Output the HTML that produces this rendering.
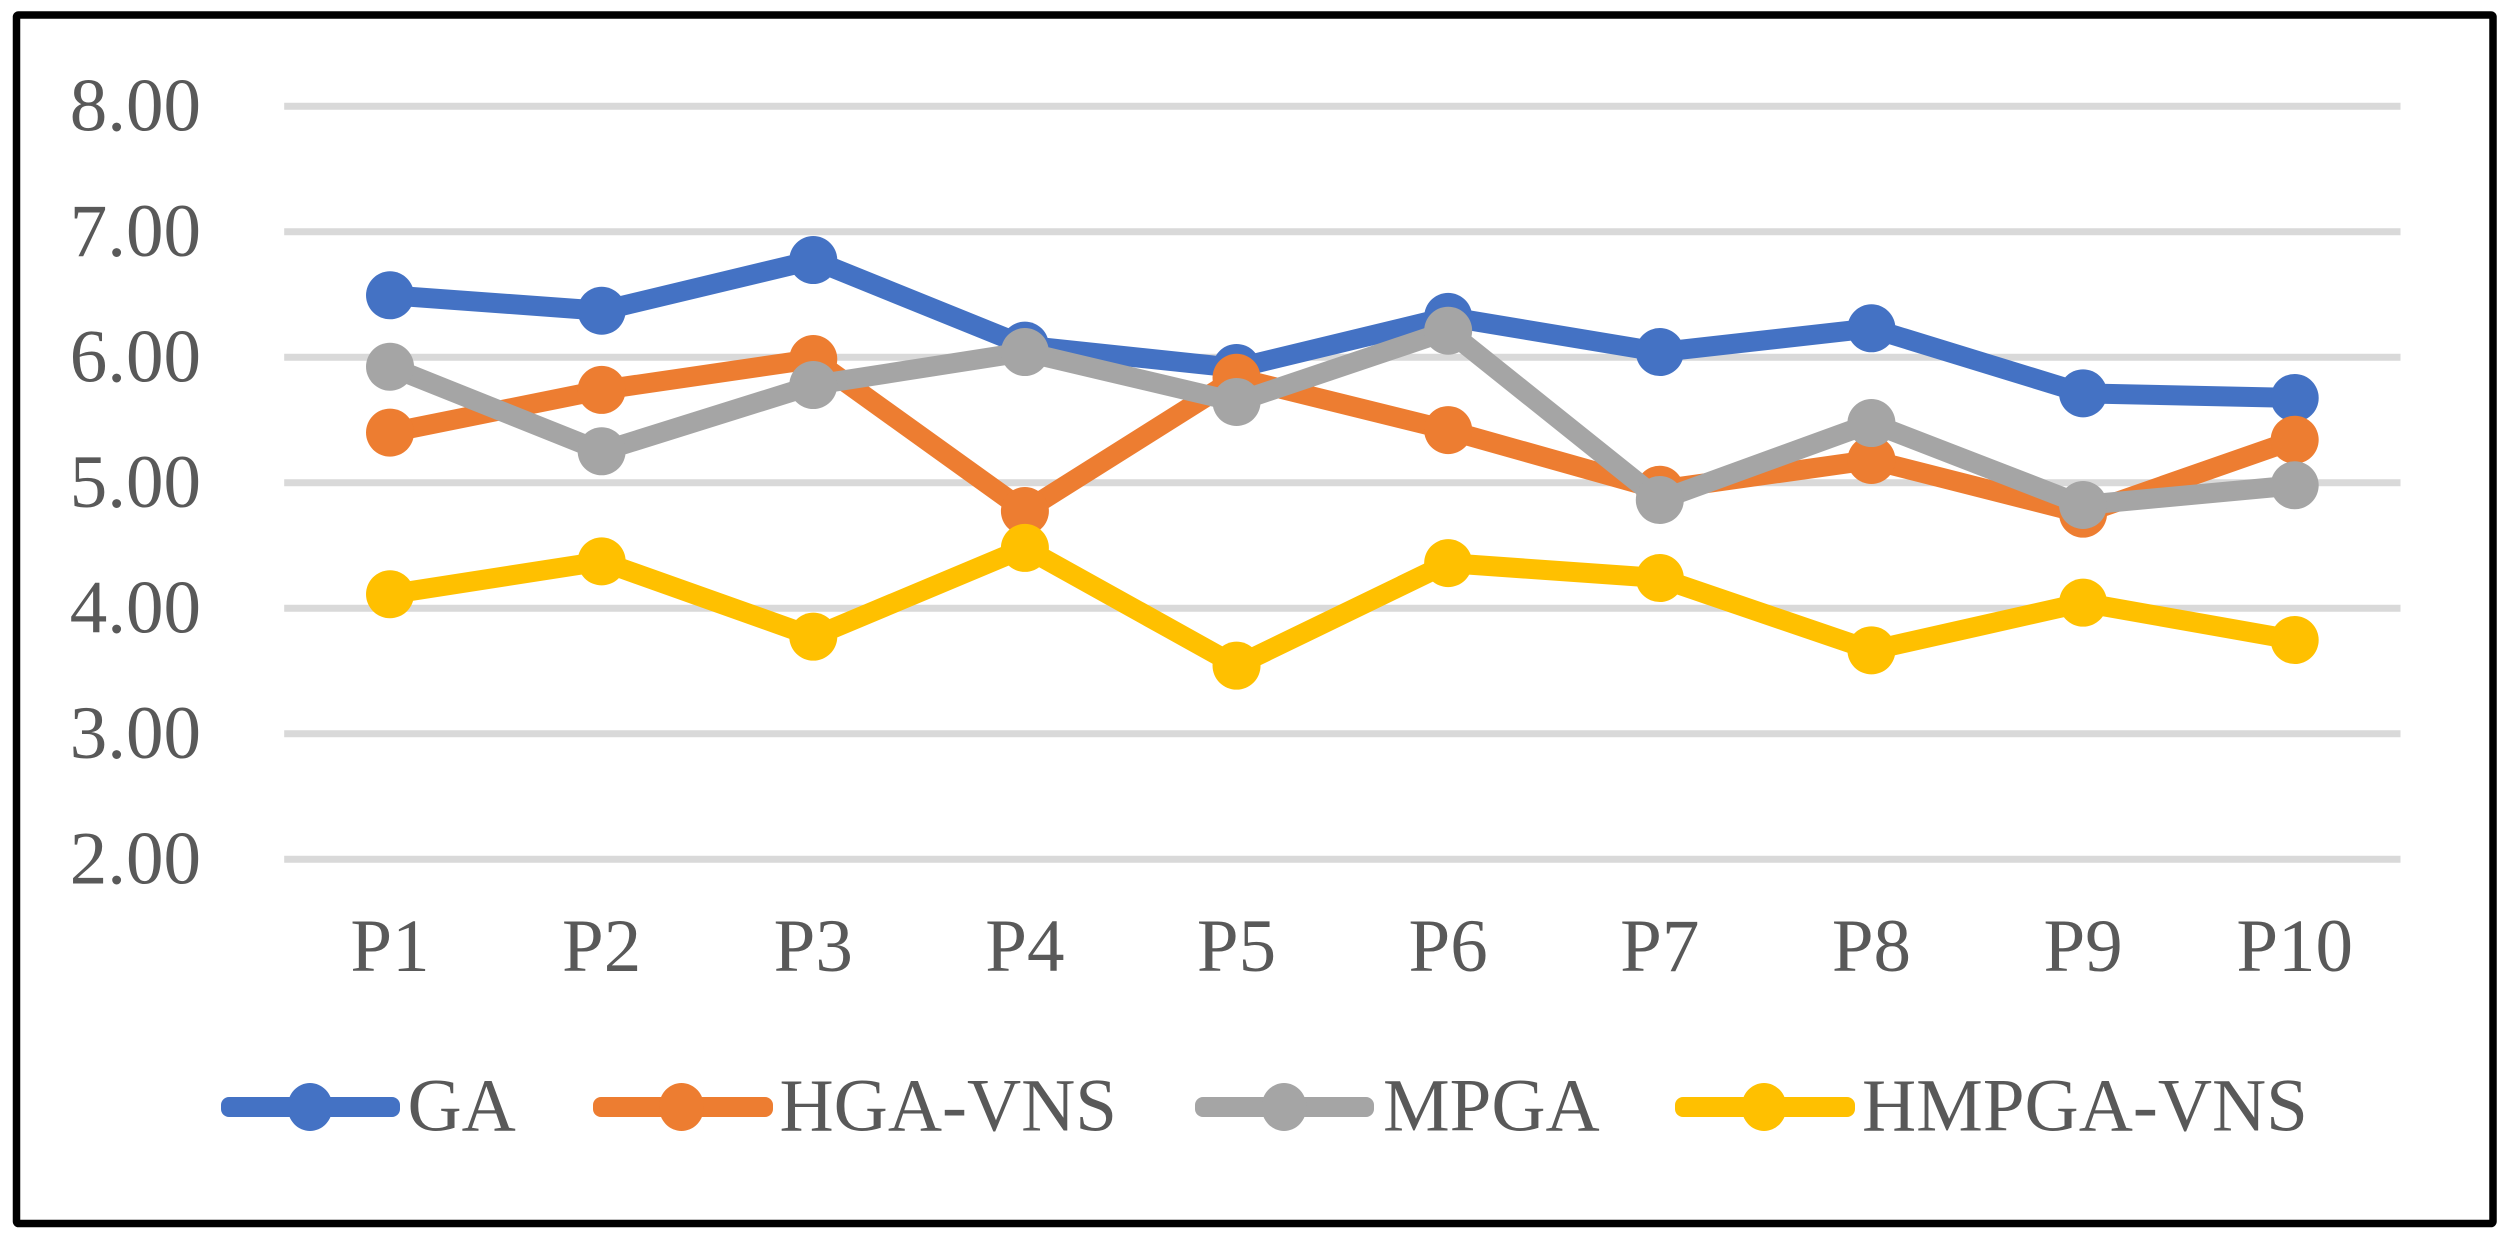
<!DOCTYPE html>
<html lang="en">
<head>
<meta charset="utf-8">
<title>Line chart of GA, HGA-VNS, MPGA and HMPGA-VNS across P1 to P10</title>
<style>
  html, body { margin: 0; padding: 0; background: #ffffff; }
  svg { display: block; }
  text { font-family: "Liberation Serif", serif; font-size: 75px; fill: #595959; }
</style>
</head>
<body>
<svg id="chart" xmlns="http://www.w3.org/2000/svg" width="2510" height="1248" viewBox="0 0 2510 1248">
  <rect x="0" y="0" width="2510" height="1248" fill="#ffffff"/>
  <rect x="16.5" y="15" width="2476.5" height="1208.5" rx="2" fill="none" stroke="#000000" stroke-width="7.5"/>
  <g id="grid"></g>
  <g id="yaxis"></g>
  <g id="xaxis"></g>
  <g id="plot"></g>
  <g>
    <g>
      <rect x="221" y="1097" width="179" height="20" rx="8" fill="#4472c4"/>
      <ellipse cx="310" cy="1107" rx="22.5" ry="24" fill="#4472c4"/>
      <text x="407.5" y="1130.5">GA</text>
    </g>
    <g>
      <rect x="593" y="1097" width="180" height="20" rx="8" fill="#ed7d31"/>
      <ellipse cx="681.5" cy="1107" rx="22.5" ry="24" fill="#ed7d31"/>
      <text x="779.5" y="1130.5">HGA-VNS</text>
    </g>
    <g>
      <rect x="1195" y="1097" width="179" height="20" rx="8" fill="#a5a5a5"/>
      <ellipse cx="1284" cy="1107" rx="22.5" ry="24" fill="#a5a5a5"/>
      <text x="1383" y="1130.5">MPGA</text>
    </g>
    <g>
      <rect x="1675" y="1097" width="180" height="20" rx="8" fill="#ffc000"/>
      <ellipse cx="1764" cy="1107" rx="22.5" ry="24" fill="#ffc000"/>
      <text x="1862" y="1130.5">HMPGA-VNS</text>
    </g>
  </g>
</svg>
<script>
const categories = ["P1", "P2", "P3", "P4", "P5", "P6", "P7", "P8", "P9", "P10"];
const yTicks = [2, 3, 4, 5, 6, 7, 8];
const yTickLabels = ["2.00", "3.00", "4.00", "5.00", "6.00", "7.00", "8.00"];
const seriesGA = [6.494, 6.371, 6.775, 6.093, 5.915, 6.322, 6.042, 6.231, 5.713, 5.676];
const seriesHGAVNS = [5.40, 5.74, 5.986, 4.775, 5.837, 5.42, 4.945, 5.182, 4.754, 5.343];
const seriesMPGA = [5.925, 5.251, 5.779, 6.042, 5.644, 6.212, 4.863, 5.476, 4.823, 4.98];
const seriesHMPGAVNS = [4.112, 4.374, 3.774, 4.481, 3.543, 4.36, 4.241, 3.665, 4.045, 3.747];

const NS = "http://www.w3.org/2000/svg";
const plotLeft = 284.2;
const plotRight = 2400.5;
const yTop = 106.3;
const yBottom = 859.3;
const yMin = 2;
const yMax = 8;

function xScale(i) {
  const band = (plotRight - plotLeft) / categories.length;
  return plotLeft + band * (i + 0.5);
}
function yScale(v) {
  return yBottom - (v - yMin) / (yMax - yMin) * (yBottom - yTop);
}
function make(tag, attrs) {
  const el = document.createElementNS(NS, tag);
  Object.keys(attrs).forEach(function (k) { el.setAttribute(k, attrs[k]); });
  return el;
}

const gridGroup = document.getElementById("grid");
const yAxisGroup = document.getElementById("yaxis");
const xAxisGroup = document.getElementById("xaxis");
const plotGroup = document.getElementById("plot");

yTicks.forEach(function (t, i) {
  const line = make("line", { x1: plotLeft, x2: plotRight, y1: yScale(t), y2: yScale(t), stroke: "#d9d9d9", "stroke-width": 7 });
  
  
  gridGroup.appendChild(line);

  const label = make("text", { x: 201, y: yScale(t) + 24, "text-anchor": "end" });
  label.textContent = yTickLabels[i];
  
  
  yAxisGroup.appendChild(label);
});

categories.forEach(function (c, i) {
  const label = make("text", { x: xScale(i), y: 971, "text-anchor": "middle" });
  label.textContent = c;
  
  
  xAxisGroup.appendChild(label);
});

function drawSeries(values, color) {
  const group = make("g", {});
  
  
  const points = values.map(function (v, i) { return xScale(i) + "," + yScale(v); }).join(" ");
  const line = make("polyline", { points: points, fill: "none", stroke: color, "stroke-width": 20, "stroke-linejoin": "round", "stroke-linecap": "round" });
  
  
  group.appendChild(line);
  values.forEach(function (v, i) {
    const dot = make("circle", { cx: xScale(i), cy: yScale(v), r: 24, fill: color });
    
    
    group.appendChild(dot);
  });
  plotGroup.appendChild(group);
}

drawSeries(seriesGA, "#4472c4");
drawSeries(seriesHGAVNS, "#ed7d31");
drawSeries(seriesMPGA, "#a5a5a5");
drawSeries(seriesHMPGAVNS, "#ffc000");
</script>
</body>
</html>
